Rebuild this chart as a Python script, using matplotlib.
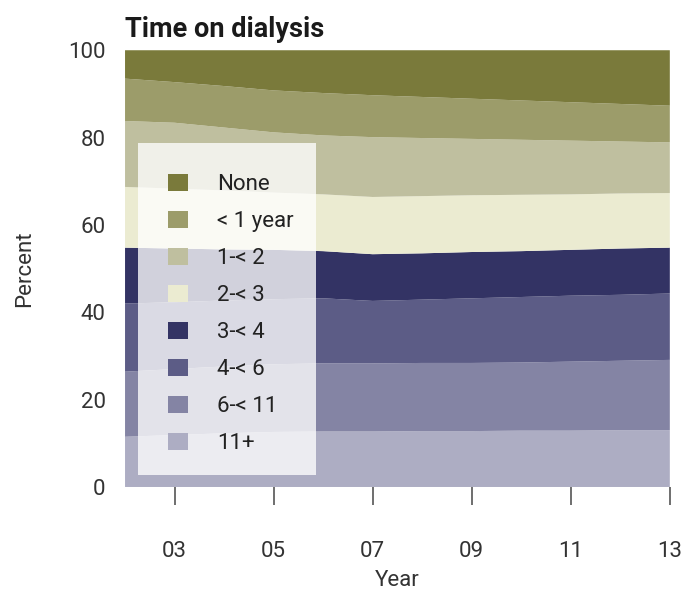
import matplotlib.pyplot as plt
from matplotlib.patches import Rectangle
import numpy as np

# Share of patients by time on dialysis, 2002-2013 (percent)
years = np.arange(2002, 2014)
labels = ['11+', '6-< 11', '4-< 6', '3-< 4', '2-< 3', '1-< 2', '< 1 year', 'None']
s_11plus = [11.5, 11.9, 12.3, 12.6, 12.7, 12.7, 12.8, 12.8, 12.9, 12.9, 13.0, 13.0]
s_6_11 = [14.9, 15.1, 15.3, 15.5, 15.6, 15.6, 15.6, 15.6, 15.6, 15.8, 15.9, 16.1]
s_4_6 = [15.6, 15.3, 15.1, 14.9, 14.9, 14.3, 14.5, 14.8, 15.0, 15.1, 15.1, 15.2]
s_3_4 = [12.8, 12.3, 11.7, 11.3, 10.8, 10.7, 10.6, 10.6, 10.5, 10.5, 10.6, 10.5]
s_2_3 = [13.9, 13.7, 13.5, 13.1, 13.0, 13.1, 13.1, 13.0, 12.9, 12.7, 12.6, 12.5]
s_1_2 = [15.1, 15.1, 14.4, 13.8, 13.5, 13.7, 13.3, 12.9, 12.6, 12.3, 11.9, 11.6]
s_lt1 = [9.7, 9.3, 9.5, 9.6, 9.7, 9.6, 9.4, 9.2, 9.0, 8.8, 8.6, 8.4]
s_none = [6.5, 7.3, 8.2, 9.2, 9.8, 10.3, 10.7, 11.1, 11.5, 11.9, 12.3, 12.7]
series = [s_11plus, s_6_11, s_4_6, s_3_4, s_2_3, s_1_2, s_lt1, s_none]
colors = ['#adadc3', '#8484a4', '#5c5c86', '#333364',
          '#ebebd1', '#bfbf9f', '#9c9c6a', '#7a7a3b']

plt.rcParams['font.family'] = ['Roboto', 'DejaVu Sans']

fig = plt.figure(figsize=(6.87, 5.91), dpi=100)
ax = fig.add_axes([0.182, 0.176, 0.793, 0.739])

ax.stackplot(years, *series, colors=colors, labels=labels, linewidth=0)

ax.set_xlim(2002, 2013)
ax.set_ylim(0, 100)
ax.set_xticks([2003, 2005, 2007, 2009, 2011, 2013])
ax.set_xticklabels(['03', '05', '07', '09', '11', '13'])
ax.set_yticks([0, 20, 40, 60, 80, 100])
for s in ax.spines.values():
    s.set_visible(False)
ax.tick_params(axis='x', length=13, width=1.2, color='#555555', pad=26,
               labelsize=16, labelcolor='#333333')
ax.tick_params(axis='y', length=0, pad=14, labelsize=16, labelcolor='#333333')
ax.set_xlabel('Year', fontsize=16, color='#333333', labelpad=6)
ax.set_ylabel('Percent', fontsize=16, color='#333333', labelpad=24)

fig.text(0.182, 0.928, 'Time on dialysis', fontsize=19.5, fontweight='bold',
         color='#1a1a1a', ha='left', va='bottom')

# translucent panel behind the legend
ax.add_patch(Rectangle((0.024, 0.027), 0.326, 0.76, transform=ax.transAxes,
                       facecolor='white', alpha=0.78, edgecolor='none', zorder=3))

# legend listed from top band down
h, l = ax.get_legend_handles_labels()
leg = ax.legend(h[::-1], l[::-1], loc='upper left', bbox_to_anchor=(0.079, 0.716),
                frameon=False, fontsize=16, handlelength=0.9, handleheight=0.75,
                handletextpad=1.3, labelspacing=0.72, borderpad=0,
                borderaxespad=0)
leg.set_zorder(4)
for t in leg.get_texts():
    t.set_color('#222222')

fig.savefig('out.png', dpi=100)
